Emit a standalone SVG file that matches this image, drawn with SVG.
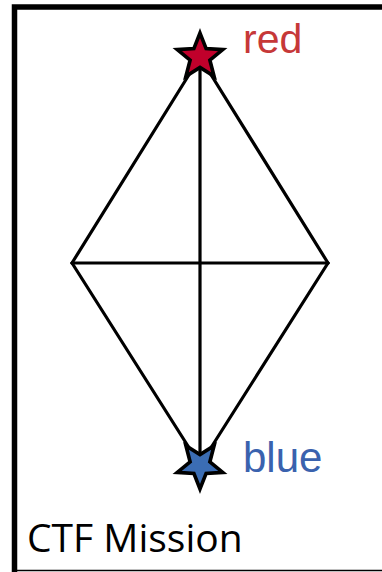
<svg xmlns="http://www.w3.org/2000/svg" width="382" height="572" viewBox="0 0 382 572">
<style>
.edge{stroke:#000;stroke-width:3.2;fill:none;stroke-linecap:round}
.star{stroke:#000;stroke-width:3.5;stroke-linejoin:miter}
.lbl{font-family:"Liberation Sans",Arial,sans-serif}
</style>
<rect x="0" y="0" width="382" height="572" fill="#fff"/>
<g id="frame">
<path d="M14.5,572 V7 H382" fill="none" stroke="#000" stroke-width="5.5"/>
<line x1="14" y1="570.5" x2="382" y2="570.5" stroke="#000" stroke-width="1.5"/>
</g>
<g id="connectors">
<line class="edge" x1="200" y1="57" x2="72" y2="263"/>
<line class="edge" x1="200" y1="57" x2="328" y2="263"/>
<line class="edge" x1="72" y1="263" x2="200" y2="465"/>
<line class="edge" x1="328" y1="263" x2="200" y2="465"/>
<line class="edge" x1="72" y1="263" x2="328" y2="263"/>
<line class="edge" x1="200" y1="57" x2="200" y2="465"/>
</g>
<g id="red">
<polygon class="star" fill="#c1002b" transform="translate(200,57) scale(1.04)" points="0,-23 5.88,-8.09 21.87,-7.11 9.51,3.09 13.52,18.61 0,10 -13.52,18.61 -9.51,3.09 -21.87,-7.11 -5.88,-8.09"/>
<text class="lbl" x="243" y="53" font-size="41" fill="#c63838">red</text>
</g>
<g id="blue">
<polygon class="star" fill="#3b6db4" transform="translate(200,465) scale(1.04,-1.04)" points="0,-23 5.88,-8.09 21.87,-7.11 9.51,3.09 13.52,18.61 0,10 -13.52,18.61 -9.51,3.09 -21.87,-7.11 -5.88,-8.09"/>
<text class="lbl" x="243" y="472" font-size="42" fill="#3a62ae">blue</text>
</g>
<g id="title">
<text x="27" y="552" font-family="'Open Sans','Noto Sans',sans-serif" font-size="39" fill="#000">CTF Mission</text>
</g>
</svg>
